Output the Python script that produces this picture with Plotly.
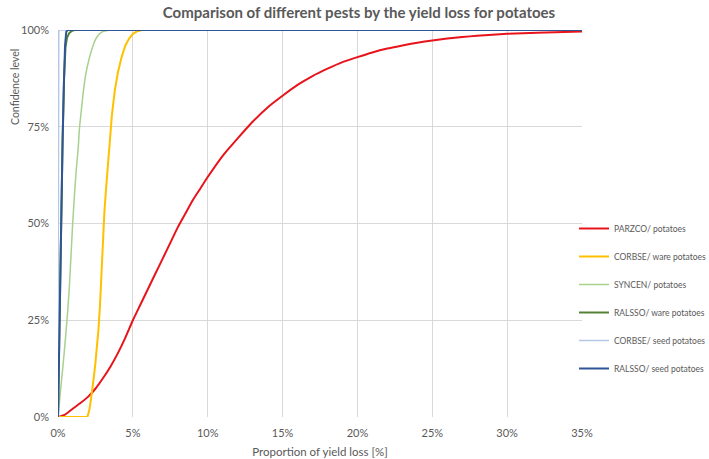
import plotly.graph_objects as go

# ---- data (x = proportion of yield loss in %, y = confidence level in %) ----
parzco_x = [0, 0.5, 1, 1.5, 2, 2.5, 3, 3.5, 4, 4.5, 5, 5.5, 6, 6.5, 7, 7.5, 8, 8.5, 9, 9.5,
            10, 11, 12, 13, 14, 15, 16, 17, 18, 19, 20, 21, 22, 23, 24, 25, 26, 27, 28, 29,
            30, 32, 35]
parzco_y = [0, 0.7, 2.2, 3.6, 5.2, 7.3, 10, 13, 16.5, 20.5, 25, 29, 33, 37, 41, 45, 49, 52.5, 56, 59,
            62, 67.5, 72, 76.3, 80, 83, 85.8, 88.1, 90, 91.7, 93, 94.2, 95.2, 96, 96.7, 97.3, 97.8, 98.2, 98.5, 98.8,
            99, 99.3, 99.6]

corbse_ware_x = [0, 1.95, 2.0, 2.1, 2.2, 2.3, 2.4, 2.5, 2.6, 2.7, 2.8, 2.9, 3.0, 3.1, 3.2, 3.3, 3.4,
                 3.5, 3.6, 3.8, 4.0, 4.25, 4.5, 4.75, 5.0, 5.3, 5.6, 6, 35]
corbse_ware_y = [0, 0, 0.5, 2, 4.5, 7, 10.5, 14, 18, 22.5, 28.5, 37, 46, 53, 58.5, 64, 69.5,
                 74, 78, 84.5, 89, 93, 96, 97.8, 99, 99.7, 100, 100, 100]

syncen_x = [0, 0.2, 0.4, 0.6, 0.75, 0.98, 1.2, 1.36, 1.42, 1.55, 1.69, 1.85, 2.09, 2.3, 2.5,
            2.7, 2.95, 3.2, 3.6, 35]
syncen_y = [0, 8, 16, 25, 33, 50, 63, 70, 74, 79, 84, 88.5, 92.7, 95.5, 97.5,
            98.7, 99.5, 99.8, 100, 100]

ralsso_ware_x = [0, 0.1, 0.2, 0.3, 0.4, 0.5, 0.6, 0.75, 0.9, 1.1, 35]
ralsso_ware_y = [0, 25, 48, 70, 87, 95.5, 98, 99.2, 99.7, 100, 100]

corbse_seed_x = [0, 0.05, 35]
corbse_seed_y = [0, 100, 100]

ralsso_seed_x = [0, 0.13, 0.2, 0.31, 0.4, 0.47, 0.55, 0.65, 35]
ralsso_seed_y = [0, 33, 50, 72, 87, 96, 99.5, 100, 100]

series = [
    ("PARZCO/ potatoes", parzco_x, parzco_y, "#E8141B", 2, "spline"),
    ("CORBSE/ ware potatoes", corbse_ware_x, corbse_ware_y, "#FFC000", 2, "linear"),
    ("SYNCEN/ potatoes", syncen_x, syncen_y, "#A9D18E", 1.5, "spline"),
    ("RALSSO/ ware potatoes", ralsso_ware_x, ralsso_ware_y, "#548235", 2, "linear"),
    ("CORBSE/ seed potatoes", corbse_seed_x, corbse_seed_y, "#B4C7E7", 1.5, "linear"),
    ("RALSSO/ seed potatoes", ralsso_seed_x, ralsso_seed_y, "#2F5597", 2, "linear"),
]

x_ticks = [0, 5, 10, 15, 20, 25, 30, 35]
y_ticks = [0, 25, 50, 75, 100]

FONT = "Lato, 'Open Sans', sans-serif"
GREY = "#595959"

fig = go.Figure()
for i, (name, xs, ys, col, w, shape) in enumerate(series):
    fig.add_trace(go.Scatter(x=xs, y=ys, mode="lines", name=name, legendgroup=str(i),
                             line=dict(color=col, width=w, shape=shape, smoothing=0.6)))

fig.update_layout(
    width=709, height=459,
    margin=dict(l=58, r=127, t=30, b=42, autoexpand=False),
    paper_bgcolor="white", plot_bgcolor="white",
    font=dict(family=FONT, color=GREY, size=11),
    title=dict(text="<b>Comparison of different pests by the yield loss for potatoes</b>",
               x=359 / 709, xref="container", xanchor="center", y=1 - 13 / 459, yanchor="middle",
               font=dict(size=15, color=GREY, family=FONT)),
    showlegend=True,
    legend=dict(xref="container", yref="container", x=574 / 709, xanchor="left",
                y=1 - 214 / 459, yanchor="top",
                font=dict(size=8.5, color=GREY, family=FONT),
                tracegroupgap=9, bgcolor="rgba(0,0,0,0)", itemwidth=30),
    xaxis=dict(range=[0, 35], tickvals=x_ticks, ticktext=[f"{v}%" for v in x_ticks],
               showgrid=True, gridcolor="#D9D9D9", gridwidth=1, zeroline=False,
               showline=False, ticks="", ticklabelstandoff=8, automargin=False,
               title=dict(text="Proportion of yield loss [%]", font=dict(size=11.5, color=GREY),
                          standoff=9)),
    yaxis=dict(range=[0, 100], tickvals=y_ticks, ticktext=[f"{v}%" for v in y_ticks],
               showgrid=True, gridcolor="#D9D9D9", gridwidth=1, zeroline=False,
               showline=False, ticks="", ticklabelstandoff=8, automargin=False),
    annotations=[dict(text="Confidence level", textangle=-90, xref="paper", yref="paper",
                      x=(15 - 58) / 524, y=(417 - 87) / 387, xanchor="center", yanchor="middle",
                      showarrow=False, font=dict(size=10.5, color=GREY, family=FONT))],
)

fig.write_html("out.html", config={"displayModeBar": False},
               post_script="document.body.style.margin='0';")
